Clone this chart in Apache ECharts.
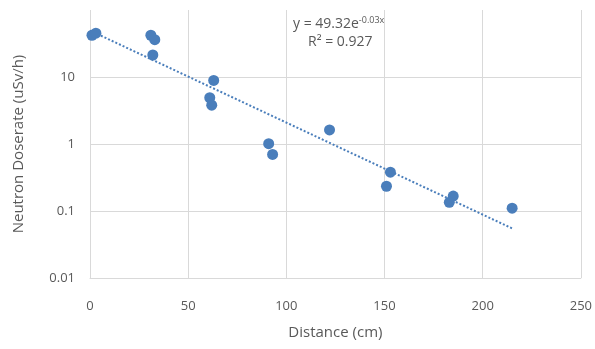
<!DOCTYPE html>
<html>
<head>
<meta charset="utf-8">
<script src="https://cdn.jsdelivr.net/npm/echarts@6/dist/echarts.min.js"></script>
<style>html,body{margin:0;padding:0;background:#fff}#c{width:595px;height:349px}</style>
</head>
<body>
<div id="c"></div>
<script>
const distances = [1, 3, 31, 33, 32, 63, 61, 62, 91, 93, 122, 153, 151, 185, 183, 215];
const doserates = [42, 45, 42, 36, 21.3, 8.9, 4.9, 3.8, 1.01, 0.70, 1.62, 0.38, 0.234, 0.167, 0.135, 0.110];
const trendX = [0, 215];
const trendY = [49.32, 0.055];
const xTicks = [0, 50, 100, 150, 200, 250];
const yTicks = [0.01, 0.1, 1, 10, 100];
const eqText = 'y = 49.32e';
const eqExp = '-0.03x';
const r2Text = 'R² = 0.927';

const font = 'Open Sans';
const grey = '#595959';
const gridCol = '#d9d9d9';
const chart = echarts.init(document.getElementById('c'), null, {renderer: 'canvas'});
chart.setOption({
  animation: false,
  backgroundColor: '#fff',
  textStyle: {fontFamily: font},
  grid: {left: 90, right: 14, top: 10, bottom: 71},
  xAxis: {
    type: 'value', min: xTicks[0], max: xTicks[xTicks.length-1], interval: 50,
    name: 'Distance (cm)', nameLocation: 'middle', nameGap: 47,
    nameTextStyle: {color: grey, fontSize: 15, fontFamily: font},
    axisLine: {show: true, lineStyle: {color: gridCol}},
    axisTick: {show: false},
    axisLabel: {color: grey, fontSize: 13, margin: 22, fontFamily: font},
    splitLine: {show: true, lineStyle: {color: gridCol}}
  },
  yAxis: {
    type: 'log', logBase: 10, min: yTicks[0], max: yTicks[yTicks.length-1],
    name: 'Neutron Doserate (uSv/h)', nameLocation: 'middle', nameGap: 64,
    nameTextStyle: {color: grey, fontSize: 15, fontFamily: font},
    axisLine: {show: false},
    axisTick: {show: false},
    axisLabel: {color: grey, fontSize: 13, margin: 15, fontFamily: font, showMaxLabel: false,
      formatter: v => String(v)},
    splitLine: {show: true, lineStyle: {color: yTicks.map((t, i) => i === yTicks.length - 1 ? 'rgba(0,0,0,0)' : gridCol)}}
  },
  graphic: [{
    type: 'text', left: 293, top: 16, z: 10,
    style: {
      rich: {
        a: {fontSize: 14, fill: grey, fontFamily: font},
        s: {fontSize: 9, fill: grey, fontFamily: font, verticalAlign: 'top', padding: [0,0,7,0]}
      },
      text: '{a|' + eqText + '}{s|' + eqExp + '}'
    }
  }, {
    type: 'text', left: 308, top: 35, z: 10,
    style: {text: r2Text, fontSize: 14, fill: grey, fontFamily: font}
  }],
  series: [{
    type: 'scatter',
    data: distances.map((d, i) => [d, doserates[i]]),
    symbolSize: 11,
    itemStyle: {color: '#4a7ebb', opacity: 1},
    z: 3
  }, {
    type: 'line',
    data: trendX.map((d, i) => [d, trendY[i]]),
    showSymbol: false, symbol: 'none',
    lineStyle: {color: '#4a7ebb', width: 2, type: [2, 2]},
    z: 2
  }]
});
</script>
</body>
</html>
